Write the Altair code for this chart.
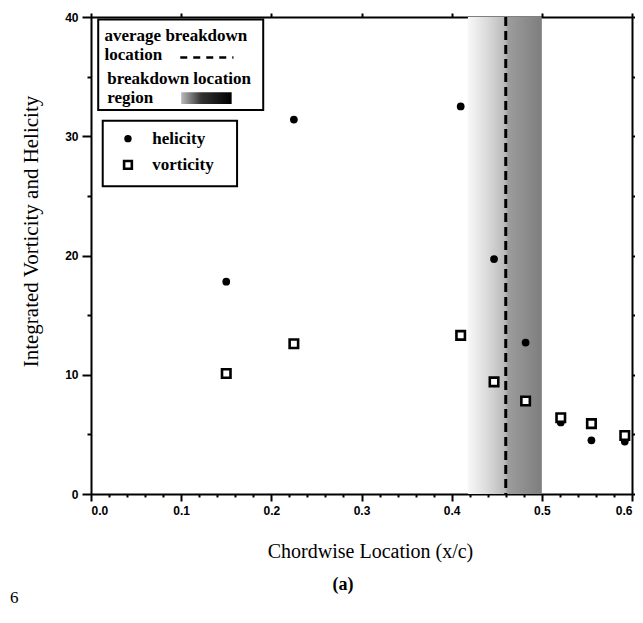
import altair as alt
import pandas as pd

# ---- data ----
x_loc = [0.15, 0.225, 0.41, 0.447, 0.482, 0.521, 0.555, 0.592]
helicity = [17.8, 31.4, 32.5, 19.7, 12.7, 6.0, 4.5, 4.4]
vorticity = [10.1, 12.6, 13.3, 9.4, 7.8, 6.4, 5.9, 4.9]
avg_breakdown = [0.46]
region_start = [0.418]
region_end = [0.5]

x_tick_values = [0.0, 0.02, 0.04, 0.06, 0.08, 0.1, 0.12, 0.14, 0.16, 0.18, 0.2,
                 0.22, 0.24, 0.26, 0.28, 0.3, 0.32, 0.34, 0.36, 0.38, 0.4,
                 0.42, 0.44, 0.46, 0.48, 0.5, 0.52, 0.54, 0.56, 0.58, 0.6]
y_tick_values = [0, 5, 10, 15, 20, 25, 30, 35, 40]

# legend annotation content (data coordinates)
legend_box_x = [0.008, 0.013]
legend_box_x2 = [0.191, 0.162]
legend_box_y = [39.8, 31.3]
legend_box_y2 = [32.2, 25.8]
legend_text = ["average breakdown", "location", "breakdown location", "region", "helicity", "vorticity"]
legend_text_x = [0.015, 0.015, 0.018, 0.018, 0.068, 0.068]
legend_text_y = [38.4, 36.8, 34.8, 33.2, 29.8, 27.6]

caption = ["(a)"]
page_mark = ["6"]

W, H = 541, 477
SERIF = "Liberation Serif"
SANS = "Liberation Sans"

xs = alt.Scale(domain=[0, 0.6], nice=False, zero=False)
ys = alt.Scale(domain=[0, 40], nice=False)

major_x = "abs(datum.value*10 - round(datum.value*10)) < 0.001"
major_y = "datum.value % 10 == 0"

x_axis = alt.Axis(
    values=x_tick_values, orient="bottom",
    labelExpr=f"{major_x} ? format(datum.value, '.1f') : ''",
    tickSize={"condition": {"test": major_x, "value": 7}, "value": 3},
    tickWidth=2, tickColor="black", domainWidth=2, domainColor="black",
    labelFont=SANS, labelFontWeight="bold", labelFontSize=12, labelColor="black",
    labelPadding=4, grid=False,
    title="Chordwise Location  (x/c)", titleFont=SERIF, titleFontWeight="normal",
    titleFontSize=20, titleColor="black", titleY=57, titleX=279,
    titleBaseline="middle", titleAlign="center",
)
y_axis = alt.Axis(
    values=y_tick_values, orient="left",
    labelExpr=f"{major_y} ? datum.label : ''",
    tickSize={"condition": {"test": major_y, "value": 9}, "value": 4},
    tickWidth=2, tickColor="black", domainWidth=2, domainColor="black",
    labelFont=SANS, labelFontWeight="bold", labelFontSize=12, labelColor="black",
    labelPadding=4, grid=False,
    title="Integrated Vorticity and Helicity", titleFont=SERIF, titleFontWeight="normal",
    titleFontSize=21, titleColor="black", titleX=-60, titleY=214,
    titleAngle=-90, titleBaseline="middle", titleAlign="center",
)

pts = pd.DataFrame({"x": x_loc, "helicity": helicity, "vorticity": vorticity})
region = pd.DataFrame({"x0": region_start, "x1": region_end})
avg = pd.DataFrame({"x": avg_breakdown})

shade = alt.Chart(region).mark_rect(
    fill=alt.Gradient(
        gradient="linear",
        stops=[
            alt.GradientStop(offset=0.0, color="#f8f8f8"),
            alt.GradientStop(offset=0.25, color="#dcdcdc"),
            alt.GradientStop(offset=0.5, color="#bababa"),
            alt.GradientStop(offset=0.55, color="#9c9c9c"),
            alt.GradientStop(offset=1.0, color="#7e7e7e"),
        ],
        x1=0, x2=1, y1=0, y2=0,
    )
).encode(x=alt.X("x0:Q", scale=xs, axis=None), x2="x1:Q")

dash = alt.Chart(avg).mark_rule(color="black", strokeWidth=3, strokeDash=[9, 5]).encode(
    x=alt.X("x:Q", scale=xs, axis=None)
)

circles = alt.Chart(pts).mark_point(
    shape="circle", filled=True, size=60, color="black", opacity=1
).encode(
    x=alt.X("x:Q", scale=xs, axis=x_axis),
    y=alt.Y("helicity:Q", scale=ys, axis=y_axis),
)

squares = alt.Chart(pts).mark_point(
    shape="square", filled=False, fill="white", fillOpacity=1, stroke="black",
    strokeWidth=2.6, strokeOpacity=1, size=72,
).encode(
    x=alt.X("x:Q", scale=xs, axis=None),
    y=alt.Y("vorticity:Q", scale=ys, axis=None),
)

frame = alt.Chart(pd.DataFrame({"x": [0.0], "y": [0.0]})).mark_point(opacity=0).encode(
    x=alt.X("x:Q", scale=xs, axis=alt.Axis(
        orient="top", values=[0.0, 0.1, 0.2, 0.3, 0.4, 0.5, 0.6], labels=False, title=None,
        tickSize=4, tickWidth=2, tickColor="black", domainWidth=2, domainColor="black", grid=False)),
    y=alt.Y("y:Q", scale=ys, axis=alt.Axis(
        orient="right", values=y_tick_values, labels=False, title=None,
        tickSize=3, tickWidth=2, tickColor="black", domainWidth=2, domainColor="black", grid=False)),
)

boxes = pd.DataFrame({"x": legend_box_x, "x2": legend_box_x2, "y": legend_box_y, "y2": legend_box_y2})
box_layer = alt.Chart(boxes).mark_rect(fill="white", stroke="black", strokeWidth=2).encode(
    x=alt.X("x:Q", scale=xs, axis=None), x2="x2:Q",
    y=alt.Y("y:Q", scale=ys, axis=None), y2="y2:Q",
)

texts = pd.DataFrame({"t": legend_text, "x": legend_text_x, "y": legend_text_y})
text_layer = alt.Chart(texts).mark_text(
    align="left", baseline="middle", font=SERIF, fontWeight="bold", fontSize=17, color="black"
).encode(
    x=alt.X("x:Q", scale=xs, axis=None), y=alt.Y("y:Q", scale=ys, axis=None), text="t:N"
)

leg_dash = alt.Chart(pd.DataFrame({"x": [0.099], "x2": [0.158], "y": [36.6]})).mark_rule(
    color="black", strokeWidth=2.5, strokeDash=[7, 6]
).encode(x=alt.X("x:Q", scale=xs, axis=None), x2="x2:Q", y=alt.Y("y:Q", scale=ys, axis=None))

leg_swatch = alt.Chart(pd.DataFrame({"x": [0.1], "x2": [0.156], "y": [33.7], "y2": [32.7]})).mark_rect(
    fill=alt.Gradient(
        gradient="linear",
        stops=[alt.GradientStop(offset=0, color="#bbbbbb"),
               alt.GradientStop(offset=0.4, color="#333333"),
               alt.GradientStop(offset=1, color="#000000")],
        x1=0, x2=1, y1=0, y2=0,
    )
).encode(x=alt.X("x:Q", scale=xs, axis=None), x2="x2:Q",
         y=alt.Y("y:Q", scale=ys, axis=None), y2="y2:Q")

leg_circle = alt.Chart(pd.DataFrame({"x": [0.041], "y": [29.8]})).mark_point(
    shape="circle", filled=True, size=55, color="black", opacity=1
).encode(x=alt.X("x:Q", scale=xs, axis=None), y=alt.Y("y:Q", scale=ys, axis=None))

leg_square = alt.Chart(pd.DataFrame({"x": [0.041], "y": [27.6]})).mark_point(
    shape="square", filled=False, fill="white", fillOpacity=1, stroke="black",
    strokeWidth=2.6, size=60,
).encode(x=alt.X("x:Q", scale=xs, axis=None), y=alt.Y("y:Q", scale=ys, axis=None))

cap = alt.Chart(pd.DataFrame({"t": caption})).mark_text(
    align="center", baseline="middle", font=SERIF, fontSize=18, fontWeight="bold", color="black"
).encode(x=alt.value(252), y=alt.value(H + 91), text="t:N")

corner = alt.Chart(pd.DataFrame({"t": page_mark})).mark_text(
    align="left", baseline="middle", font=SERIF, fontSize=17, color="black"
).encode(x=alt.value(-81), y=alt.value(H + 104), text="t:N")

chart = alt.layer(
    shade, dash, circles, squares, frame, box_layer, text_layer,
    leg_dash, leg_swatch, leg_circle, leg_square, cap, corner,
).resolve_axis(x="independent", y="independent").properties(
    width=W, height=H,
    autosize=alt.AutoSizeParams(type="none"),
    padding={"left": 83, "top": 9, "right": 3, "bottom": 116},
).configure_view(stroke="black", strokeWidth=2).configure(background="white")

chart.save("out.html", embed_options={"renderer": "svg", "actions": False})
